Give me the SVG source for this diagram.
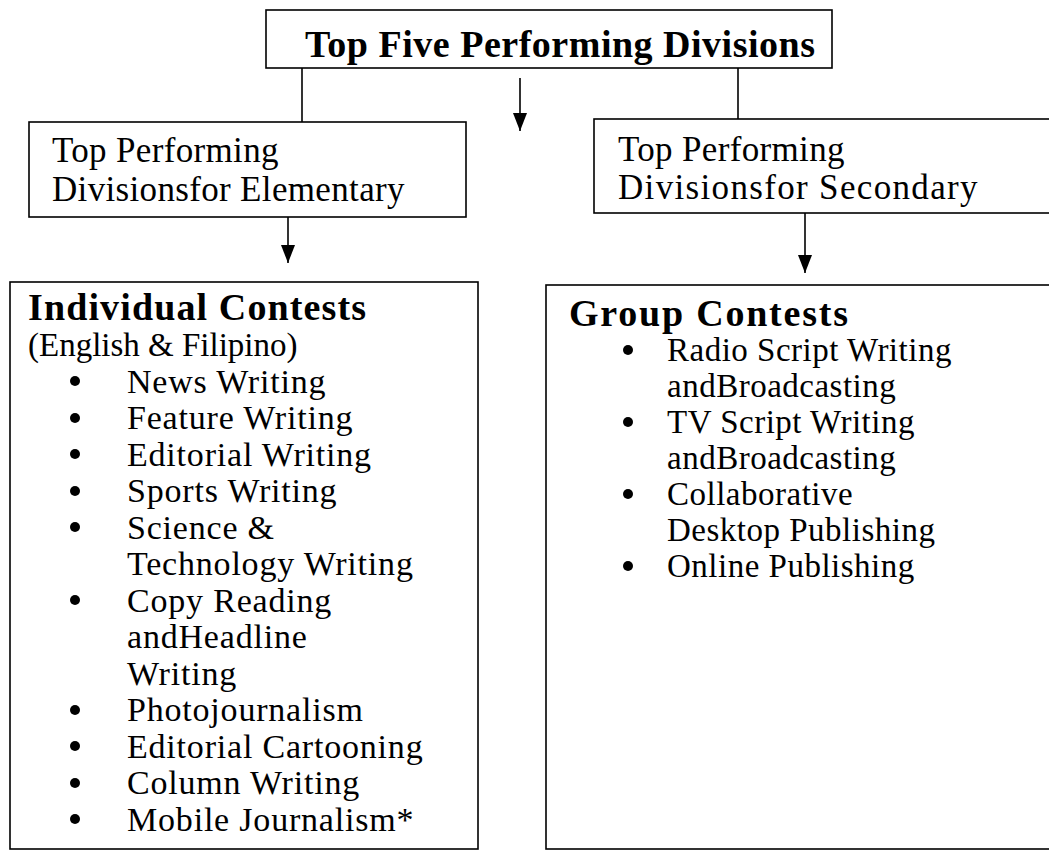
<svg xmlns="http://www.w3.org/2000/svg" width="1049" height="851" viewBox="0 0 1049 851">
<style>
  .box { fill: #ffffff; stroke: #000000; stroke-width: 1.6; }
  .ln { stroke: #000000; stroke-width: 1.6; fill: none; }
  .t { font-family: "Liberation Serif", "Times New Roman", serif; font-size: 33px; fill: #000000; letter-spacing: 0.5px; }
  .l { font-size: 34px; letter-spacing: 0.8px; }
  .h { font-size: 35px; }
  .e { font-size: 33px; letter-spacing: 0; }
  .b { font-weight: bold; font-size: 38px; letter-spacing: 0; }
  .dot { fill: #000000; }
</style>
<defs>
  <marker id="arrow" viewBox="0 0 18 14" refX="18" refY="7" markerWidth="18" markerHeight="14" markerUnits="userSpaceOnUse" orient="auto">
    <path d="M0,0 L18,7 L0,14 z" fill="#000000"/>
  </marker>
</defs>
<rect width="1049" height="851" fill="#ffffff"/>

<g id="connectors">
  <line class="ln" x1="302" y1="68" x2="302" y2="122"/>
  <line class="ln" x1="738" y1="68" x2="738" y2="119"/>
  <line class="ln" x1="520" y1="78" x2="520" y2="131" marker-end="url(#arrow)"/>
  <line class="ln" x1="288" y1="217" x2="288" y2="263" marker-end="url(#arrow)"/>
  <line class="ln" x1="805" y1="213" x2="805" y2="273" marker-end="url(#arrow)"/>
</g>

<g id="top">
  <rect class="box" x="266" y="10" width="566" height="58"/>
  <text class="t b" x="560" y="57" text-anchor="middle" textLength="510" lengthAdjust="spacing">Top Five Performing Divisions</text>
</g>

<g id="elementary">
  <rect class="box" x="29" y="122" width="437" height="95"/>
  <text class="t h" x="52" y="162" textLength="227" lengthAdjust="spacing">Top Performing</text>
  <text class="t h" x="52" y="201" textLength="353" lengthAdjust="spacing">Divisionsfor Elementary</text>
</g>

<g id="secondary">
  <rect class="box" x="594" y="119" width="460" height="94"/>
  <text class="t h" x="618" y="161" textLength="227" lengthAdjust="spacing">Top Performing</text>
  <text class="t h" x="618" y="199" textLength="360" lengthAdjust="spacing">Divisionsfor Secondary</text>
</g>

<g id="individual">
  <rect class="box" x="10" y="282" width="468" height="567"/>
  <text class="t b" x="28" y="320" textLength="338" lengthAdjust="spacing">Individual Contests</text>
  <text class="t e" x="28" y="356">(English &amp; Filipino)</text>
  <circle class="dot" cx="75" cy="381" r="5"/><text class="t l" x="127" y="393">News Writing</text>
  <circle class="dot" cx="75" cy="418" r="5"/><text class="t l" x="127" y="429">Feature Writing</text>
  <circle class="dot" cx="75" cy="454" r="5"/><text class="t l" x="127" y="466">Editorial Writing</text>
  <circle class="dot" cx="75" cy="491" r="5"/><text class="t l" x="127" y="502">Sports Writing</text>
  <circle class="dot" cx="75" cy="527" r="5"/><text class="t l" x="127" y="539">Science &amp;</text>
  <text class="t l" x="127" y="575">Technology Writing</text>
  <circle class="dot" cx="75" cy="600" r="5"/><text class="t l" x="127" y="612">Copy Reading</text>
  <text class="t l" x="127" y="648">andHeadline</text>
  <text class="t l" x="127" y="685">Writing</text>
  <circle class="dot" cx="75" cy="710" r="5"/><text class="t l" x="127" y="721">Photojournalism</text>
  <circle class="dot" cx="75" cy="746" r="5"/><text class="t l" x="127" y="758">Editorial Cartooning</text>
  <circle class="dot" cx="75" cy="783" r="5"/><text class="t l" x="127" y="794">Column Writing</text>
  <circle class="dot" cx="75" cy="819" r="5"/><text class="t l" x="127" y="831">Mobile Journalism*</text>
</g>

<g id="group">
  <rect class="box" x="546" y="285" width="510" height="564"/>
  <text class="t b" x="569" y="326" textLength="279" lengthAdjust="spacing">Group Contests</text>
  <circle class="dot" cx="628" cy="350" r="5"/><text class="t" x="667" y="361">Radio Script Writing</text>
  <text class="t" x="667" y="397">andBroadcasting</text>
  <circle class="dot" cx="628" cy="422" r="5"/><text class="t" x="667" y="433">TV Script Writing</text>
  <text class="t" x="667" y="469">andBroadcasting</text>
  <circle class="dot" cx="628" cy="494" r="5"/><text class="t" x="667" y="505">Collaborative</text>
  <text class="t" x="667" y="541">Desktop Publishing</text>
  <circle class="dot" cx="628" cy="566" r="5"/><text class="t" x="667" y="577">Online Publishing</text>
</g>
</svg>
